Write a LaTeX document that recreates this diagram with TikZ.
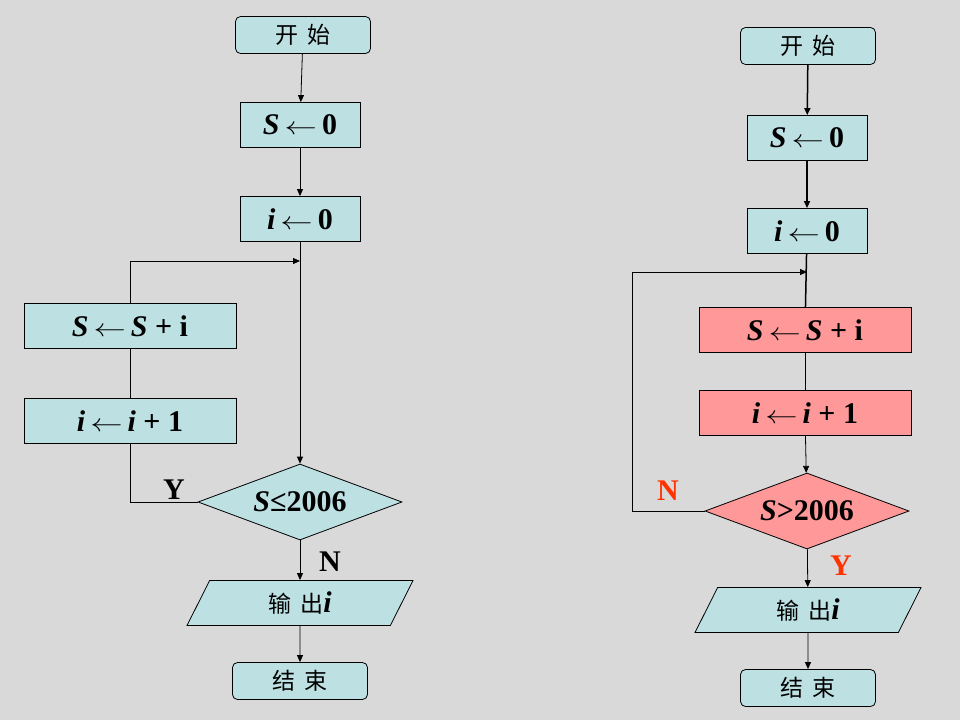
\documentclass[tikz,border=0pt]{standalone}
\usepackage{fontspec}
\setmainfont{Liberation Serif}
\newfontfamily\cjk{Noto Sans CJK SC}
\usetikzlibrary{shapes.geometric,arrows.meta}
\definecolor{bggray}{RGB}{217,217,217}
\definecolor{boxcyan}{RGB}{189,224,227}
\definecolor{boxpink}{RGB}{255,153,153}
\definecolor{labred}{RGB}{255,51,0}
\newcommand{\bigtxt}{\rmfamily\fontsize{30}{32}\selectfont\bfseries}
\newcommand{\cjktxt}{\cjk\fontsize{23}{25}\selectfont}
\newcommand{\getsarrow}{\scalebox{1.3}[1]{$\leftarrow$}}
\tikzset{
  proc/.style={draw, fill=boxcyan, minimum width=120pt, minimum height=45pt, inner sep=0pt, font=\bigtxt},
  wideproc/.style={proc, minimum width=212pt},
  term/.style={draw, fill=boxcyan, rounded corners=5pt, minimum width=135pt, minimum height=37pt, inner sep=0pt, font=\cjktxt},
  decide/.style={draw, fill=boxcyan, diamond, aspect=2.7, minimum width=204pt, minimum height=76pt, inner sep=0pt, font=\bigtxt},
  inout/.style={draw, fill=boxcyan, trapezium, trapezium left angle=45, trapezium right angle=135, trapezium stretches body, minimum width=226pt, minimum height=45pt, inner sep=0pt, font=\cjktxt},
  lab/.style={font=\bigtxt, inner sep=0pt},
  arr/.style={-{Triangle[length=7pt,width=6pt]}},
  conn/.style={line width=0.8pt}
}
\begin{document}
\begin{tikzpicture}[x=1pt, y=-1pt, conn]
  % background
  \fill[bggray] (0,0) rectangle (960,720);
  \useasboundingbox (0,0) rectangle (960,720);

  % left chart
  \node[term] (start1) at (303,35) {开\hspace{9pt}始};
  \node[proc] (s1) at (300,125) {\textit{S}\,\getsarrow\,0};
  \node[proc] (i1) at (300,219) {\textit{i}\,\getsarrow\,0};
  \coordinate (j1) at (300,261);
  \node[wideproc] (sum1) at (130,326) {\textit{S}\,\getsarrow\,\textit{S} + i};
  \node[wideproc] (inc1) at (130,421) {\textit{i}\,\getsarrow\,\textit{i} + 1};
  \node[decide] (d1) at (300,502) {\textit{S}≤2006};
  \node[inout] (out1) at (300,603) {输\hspace{9pt}出{\bigtxt\textit{i}}};
  \node[term] (end1) at (300,681) {结\hspace{9pt}束};
  \node[lab] (y1) at (174,490) {Y};
  \node[lab] (n1) at (330,562) {N};

  \draw[arr] (start1) -- (s1);
  \draw[arr] (s1) -- (i1);
  \draw (i1) -- (j1);
  \draw[arr] (j1) -- (d1);
  \draw[arr] (d1) -- (out1);
  \draw[arr] (out1) -- (end1);
  \draw (d1.west) -| (inc1.south);
  \draw (inc1) -- (sum1);
  \draw[arr] (sum1.north) |- (j1);

  % right chart
  \node[term] (start2) at (808,46) {开\hspace{9pt}始};
  \node[proc] (s2) at (807,138) {\textit{S}\,\getsarrow\,0};
  \node[proc] (i2) at (807,231) {\textit{i}\,\getsarrow\,0};
  \coordinate (j2) at (807,272);
  \node[wideproc, fill=boxpink] (sum2) at (805,330) {\textit{S}\,\getsarrow\,\textit{S} + i};
  \node[wideproc, fill=boxpink] (inc2) at (805,413) {\textit{i}\,\getsarrow\,\textit{i} + 1};
  \node[decide, fill=boxpink] (d2) at (807,511) {\textit{S}>2006};
  \node[inout] (out2) at (808,610) {输\hspace{9pt}出{\bigtxt\textit{i}}};
  \node[term] (end2) at (808,688) {结\hspace{9pt}束};
  \node[lab, text=labred] (n2) at (668,491) {N};
  \node[lab, text=labred] (y2) at (841,566) {Y};

  \draw[arr, line width=1.5pt] (start2) -- (s2);
  \draw[arr, line width=1.5pt] (s2) -- (i2);
  \draw[line width=1.5pt] (i2) -- (sum2);
  \draw (sum2) -- (inc2);
  \draw[arr] (inc2) -- (d2);
  \draw[arr] (d2) -- (out2);
  \draw[arr] (out2) -- (end2);
  \draw[arr] (d2.west) -- ++(-72,0) |- (j2);
\end{tikzpicture}
\end{document}
